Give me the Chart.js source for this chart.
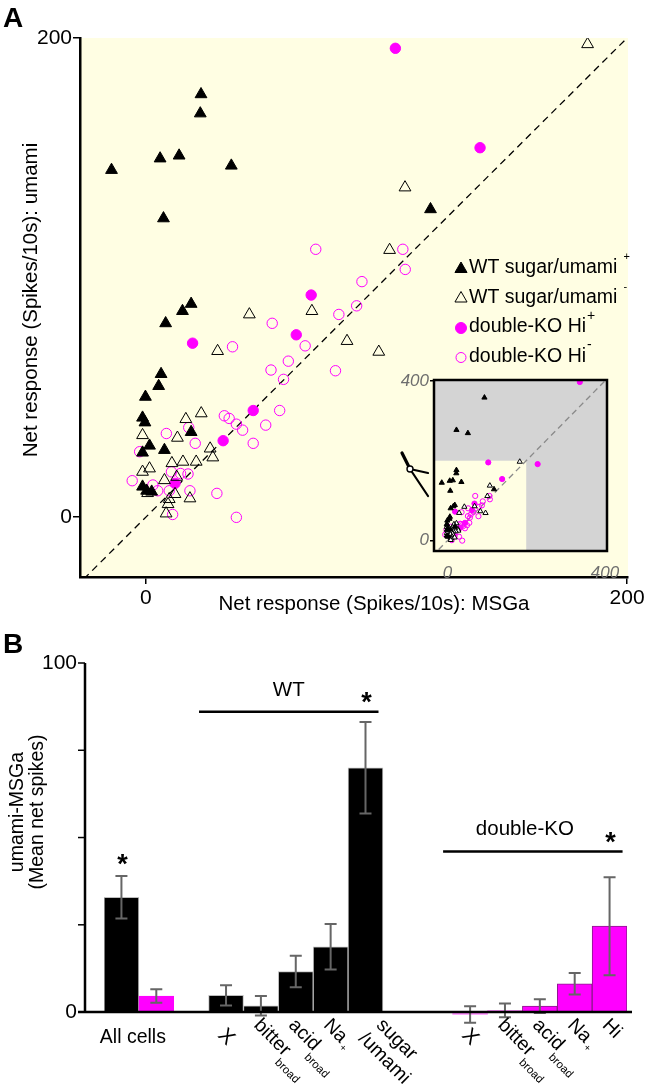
<!DOCTYPE html>
<html lang="en">
<head>
<meta charset="UTF-8">
<title>umami vs MSGa responses</title>
<script src="https://cdn.jsdelivr.net/npm/chart.js@4.4.1/dist/chart.umd.min.js"></script>
<style>
  html, body { margin: 0; padding: 0; background: #fff; }
  body { width: 646px; height: 1086px; position: relative; overflow: hidden; }
  canvas { position: absolute; }
  #chartA { left: 0; top: 0; }
  #inset { left: 395px; top: 365px; }
  #chartB { left: 0; top: 620px; }
</style>
</head>
<body>
<canvas id="chartA" width="646" height="620"></canvas>
<canvas id="inset" width="251" height="215"></canvas>
<canvas id="chartB" width="646" height="466"></canvas>
<script>
// ---- Panel A: net responses [MSGa, umami] (spikes/10s)
const wtPlus = [[-14.3,144.9],[5.9,149.7],[13.8,150.9],[22.9,176.5],[22.6,168.5],[35.5,146.7],[7.3,124.7],
  [118.3,128.5],[18.8,89],[15.2,86],[8.2,80.9],[6.3,59.7],[5.3,54.7],[-0.2,50.2],[-1.4,41.5],[-0.4,39.5],
  [18.8,35.5],[1.5,29.8],[7.7,28],[-1.4,26.9],[-1.4,12.7],[0.3,11],[2.4,10.6],[94,358],[23,277],[52,269]];
const wtMinus = [[183.6,197.4],[107.7,137.6],[101.3,111.5],[43,84.6],[69,86],[83.6,73.5],[96.8,69],[29.8,69.3],
  [23,43.3],[16.6,40.9],[-1.4,34.2],[13.1,33.1],[26.7,28.6],[27.8,24.9],[20.9,23.1],[15.4,23.1],[10.8,22.5],
  [1.5,20.3],[-1.4,18.9],[12.8,16.8],[7.7,15.4],[0.7,10],[12.1,9.6],[9.7,7.5],[18.3,7.8],[9.2,5.4],[8.4,1.5]];
const koPlus = [[103.7,195.7],[138.9,154.2],[68.7,92.7],[19.4,72.6],[62.5,76.1],[44.6,44.5],[32.1,31.9],
  [12.1,14.1],[336,397],[229,191.5]];
const koMinus = [[70.6,111.8],[106.8,111.8],[107.8,103.4],[89.8,98.3],[80.2,84.6],[87.6,88.2],[52.5,80.9],
  [66.2,71.5],[36,71.1],[59.2,65.1],[52,61.4],[78.8,61.1],[57.2,57.5],[55.6,44.5],[32.6,42.3],[34.6,41.2],
  [37.6,38.8],[40.2,36.3],[49.8,38.4],[17.8,37.4],[8.5,34.9],[44.6,30.8],[20.5,30.8],[-2.6,27.3],[10.6,18.9],
  [14.4,18.2],[17.5,18],[-5.7,15.2],[2.9,13.4],[4.9,11],[9.7,11],[18.3,11],[29.5,9.9],[11.1,1.1],[37.6,-0.1]];
const seriesNames = ['WT sugar/umami', 'WT sugar/umami', 'double-KO Hi', 'double-KO Hi'];
const seriesSigns = ['+', '-', '+', '-'];
const ticksMain = [0, 200];
const ticksInset = [0, 400];
const identity = [-40, 420];
const zoomBox = 200;   // main panel range shown inside the inset

// ---- Panel B: umami-MSGa, mean net spikes +/- sem
const allCellsGroups = ['WT', 'double-KO'];
const allCellsMean = [32.9, 4.6];
const allCellsSem = [6.1, 1.95];
const wtTypes = ['X', 'bitter_broad', 'acid_broad', 'Na_+', 'sugar/umami'];
const wtMean = [4.8, 1.8, 11.6, 18.7, 70.0];
const wtSem = [2.9, 2.8, 4.5, 6.5, 13.1];
const koTypes = ['X', 'bitter_broad', 'acid_broad', 'Na_+', 'Hi'];
const koMean = [-0.7, 0.5, 1.7, 8.1, 24.6];
const koSem = [2.35, 1.95, 2.0, 3.1, 14.05];
const ticksB = [0, 25, 50, 75, 100];
const tickLabelsB = ['0', '', '', '', '100'];
const sigLevels = [86, 46];   // WT bracket, double-KO bracket

const BLACK = '#000', MAGENTA = '#ff00ff', PLOT_BG = '#fffee3', GREY_BG = '#d4d4d4';
const FONT = "'Liberation Sans', Arial, Helvetica, sans-serif";
const clear = 'rgba(0,0,0,0)';

const pts = arr => arr.map(p => ({ x: p[0], y: p[1] }));
const fixAxis = (dim, size) => s => {
  s[dim] = size;
  s.paddingLeft = s.paddingRight = s.paddingTop = s.paddingBottom = 0;
};
const setTicks = vals => s => { s.ticks = vals.map(v => ({ value: v })); };

function seriesSets(big) {
  const tri = big ? 6.8 : 3, dot = big ? 5.2 : 2.6;
  return [
    { data: pts(wtPlus), pointStyle: 'triangle', pointRadius: tri, backgroundColor: BLACK, borderColor: BLACK, borderWidth: 1 },
    { data: pts(wtMinus), pointStyle: 'triangle', pointRadius: tri, backgroundColor: big ? clear : '#fff', borderColor: BLACK, borderWidth: 1 },
    { data: pts(koPlus), pointStyle: 'circle', pointRadius: dot, backgroundColor: MAGENTA, borderColor: MAGENTA, borderWidth: 1 },
    { data: pts(koMinus), pointStyle: 'circle', pointRadius: dot, backgroundColor: clear, borderColor: MAGENTA, borderWidth: 1 },
    { type: 'line', data: identity.map(v => ({ x: v, y: v })), borderColor: big ? BLACK : '#8a8a8a',
      borderWidth: 1.3, borderDash: big ? [7, 5] : [6, 4], pointRadius: 0, order: 10 }
  ];
}

const markerStyles = [
  { pointStyle: 'triangle', radius: 7, fill: BLACK, stroke: BLACK },
  { pointStyle: 'triangle', radius: 7, fill: clear, stroke: BLACK },
  { pointStyle: 'circle', radius: 5.5, fill: MAGENTA, stroke: MAGENTA },
  { pointStyle: 'circle', radius: 5, fill: clear, stroke: MAGENTA }
];

const panelA = {
  id: 'panelA',
  beforeDraw(chart) {
    const { ctx, chartArea: a } = chart;
    ctx.save();
    ctx.fillStyle = PLOT_BG;
    ctx.fillRect(a.left, a.top, a.right - a.left, a.bottom - a.top);
    ctx.restore();
  },
  afterDraw(chart) {
    const { ctx } = chart;
    ctx.save();
    ctx.fillStyle = BLACK;
    ctx.font = `bold 28px ${FONT}`;
    ctx.textBaseline = 'middle';
    ctx.fillText('A', 3, 19);

    ctx.font = `20.5px ${FONT}`;
    ctx.textAlign = 'center';
    ctx.fillText('Net response (Spikes/10s): MSGa', 374, 604);
    ctx.save();
    ctx.translate(31, 300);
    ctx.rotate(-Math.PI / 2);
    ctx.fillText('Net response (Spikes/10s): umami', 0, 0);
    ctx.restore();

    // legend
    ctx.textAlign = 'left';
    seriesNames.forEach((name, i) => {
      const y = 268 + i * 29.5;
      const m = markerStyles[i];
      ctx.fillStyle = m.fill; ctx.strokeStyle = m.stroke; ctx.lineWidth = 1;
      Chart.helpers.drawPoint(ctx, { pointStyle: m.pointStyle, radius: m.radius, borderWidth: 1, rotation: 0 }, 461, y + 1);
      ctx.fillStyle = BLACK;
      ctx.font = `19.5px ${FONT}`;
      ctx.fillText(name, 469, y);
      const w = ctx.measureText(name).width;
      const big = i >= 2;
      ctx.font = `${big ? 14 : 11}px ${FONT}`;
      ctx.fillText(seriesSigns[i], 469 + w + (big ? 1 : 6), y - 11);
    });
    ctx.restore();
  }
};

new Chart(document.getElementById('chartA'), {
  type: 'scatter',
  data: { datasets: seriesSets(true) },
  options: {
    responsive: false, animation: false, events: [],
    layout: { padding: { left: 0, top: 38, right: 18, bottom: 0 }, autoPadding: false },
    plugins: { legend: { display: false }, tooltip: { enabled: false } },
    scales: {
      x: {
        type: 'linear', min: -27.4, max: 200.4,
        afterBuildTicks: setTicks(ticksMain), afterFit: fixAxis('height', 43),
        border: { color: BLACK, width: 2.5 },
        grid: { drawOnChartArea: false, color: BLACK, lineWidth: 1.5, tickLength: 7 },
        ticks: { color: BLACK, font: { family: FONT, size: 21 }, padding: 2, maxRotation: 0 }
      },
      y: {
        type: 'linear', min: -25, max: 200,
        afterBuildTicks: setTicks(ticksMain), afterFit: fixAxis('width', 80),
        border: { color: BLACK, width: 2.5 },
        grid: { drawOnChartArea: false, color: BLACK, lineWidth: 1.5, tickLength: 7 },
        ticks: { color: BLACK, font: { family: FONT, size: 21 }, padding: 1 }
      }
    }
  },
  plugins: [panelA]
});

const insetDeco = {
  id: 'insetDeco',
  beforeDraw(chart) {
    const { ctx, chartArea: a, scales: { x, y } } = chart;
    ctx.save();
    ctx.fillStyle = GREY_BG;
    ctx.fillRect(a.left, a.top, a.right - a.left, a.bottom - a.top);
    ctx.fillStyle = PLOT_BG;
    const xr = x.getPixelForValue(zoomBox), yt = y.getPixelForValue(zoomBox);
    ctx.fillRect(a.left, yt, xr - a.left, a.bottom - yt);
    ctx.restore();
  },
  afterDraw(chart) {
    const { ctx, chartArea: a } = chart;
    ctx.save();
    ctx.strokeStyle = BLACK;
    ctx.lineWidth = 2.5;
    ctx.strokeRect(a.left, a.top, a.right - a.left, a.bottom - a.top);
    // magnifier pointer to the left of the inset
    const cx = a.left - 24, cy = a.top + 89;
    ctx.lineCap = 'round';
    ctx.lineWidth = 3.2;
    ctx.beginPath(); ctx.moveTo(cx, cy); ctx.lineTo(cx - 8, cy - 16); ctx.stroke();
    ctx.lineWidth = 2.2;
    ctx.beginPath();
    ctx.moveTo(cx, cy); ctx.lineTo(cx + 18, cy + 4);
    ctx.moveTo(cx, cy); ctx.lineTo(cx + 18, cy + 27);
    ctx.stroke();
    ctx.fillStyle = '#fff';
    ctx.lineWidth = 1.4;
    ctx.beginPath(); ctx.arc(cx, cy, 3, 0, Math.PI * 2); ctx.fill(); ctx.stroke();
    ctx.restore();
  }
};

const insetTickFont = { family: FONT, size: 17, style: 'italic' };
new Chart(document.getElementById('inset'), {
  type: 'scatter',
  data: { datasets: seriesSets(false) },
  options: {
    responsive: false, animation: false, events: [],
    layout: { padding: { left: 0, top: 15, right: 39, bottom: 0 }, autoPadding: false },
    plugins: { legend: { display: false }, tooltip: { enabled: false } },
    scales: {
      x: {
        type: 'linear', min: -34, max: 405,
        afterBuildTicks: setTicks(ticksInset), afterFit: fixAxis('height', 29),
        border: { display: false },
        grid: { display: false },
        ticks: { color: '#6e6e6e', font: insetTickFont, padding: 4, maxRotation: 0 }
      },
      y: {
        type: 'linear', min: -26, max: 402,
        afterBuildTicks: setTicks(ticksInset), afterFit: fixAxis('width', 39),
        border: { display: false },
        grid: { drawOnChartArea: false, color: BLACK, lineWidth: 1.5, tickLength: 4 },
        ticks: { color: '#6e6e6e', font: insetTickFont, padding: 1 }
      }
    }
  },
  plugins: [insetDeco]
});

// ---- Panel B bar layout: two "All cells" bars, gap, WT types, gap, double-KO types
const slots = [];
allCellsGroups.forEach((g, i) => slots.push({ group: g, name: 'All cells', mean: allCellsMean[i], sem: allCellsSem[i] }));
slots.push(null);
wtTypes.forEach((t, i) => slots.push({ group: 'WT', name: t, mean: wtMean[i], sem: wtSem[i] }));
slots.push(null, null);
koTypes.forEach((t, i) => slots.push({ group: 'double-KO', name: t, mean: koMean[i], sem: koSem[i] }));

const groupColor = g => (g === 'WT' ? BLACK : MAGENTA);

function drawCellLabel(ctx, text, x, y) {
  ctx.save();
  ctx.translate(x, y);
  ctx.rotate(Math.PI / 4);
  ctx.textBaseline = 'alphabetic';
  ctx.textAlign = 'left';
  if (text.includes('/')) {
    const [a, b] = text.split('/');
    ctx.font = `19.5px ${FONT}`;
    ctx.fillText(a, 0, 0);
    ctx.fillText('/' + b, -3, 22);
  } else if (text.includes('_')) {
    const [main, sub] = text.split('_');
    ctx.font = `19.5px ${FONT}`;
    ctx.fillText(main, 0, 0);
    const w = ctx.measureText(main).width;
    if (sub === '+') { ctx.font = `10px ${FONT}`; ctx.fillText(sub, w + 2, 4); }
    else { ctx.font = `11.5px ${FONT}`; ctx.fillText(sub, w - 2, 11); }
  } else {
    ctx.font = `19.5px ${FONT}`;
    ctx.fillText(text, 0, 0);
  }
  ctx.restore();
}

const panelB = {
  id: 'panelB',
  afterDatasetsDraw(chart) {
    const { ctx, chartArea: a, scales: { x, y } } = chart;
    ctx.save();
    // error bars
    ctx.strokeStyle = '#666';
    ctx.lineWidth = 2;
    slots.forEach((s, i) => {
      if (!s) return;
      const cx = x.getPixelForValue(i);
      const hi = y.getPixelForValue(s.mean + s.sem), lo = y.getPixelForValue(s.mean - s.sem);
      ctx.beginPath();
      ctx.moveTo(cx, hi); ctx.lineTo(cx, lo);
      ctx.moveTo(cx - 6, hi); ctx.lineTo(cx + 6, hi);
      ctx.moveTo(cx - 6, lo); ctx.lineTo(cx + 6, lo);
      ctx.stroke();
    });

    // y axis
    const ax = a.left - 19;
    const y0 = y.getPixelForValue(0);
    ctx.strokeStyle = BLACK;
    ctx.lineWidth = 2.5;
    ctx.beginPath();
    ctx.moveTo(ax, y.getPixelForValue(ticksB[ticksB.length - 1]));
    ctx.lineTo(ax, y0);
    ctx.moveTo(a.left - 26, y0);
    ctx.lineTo(a.right + 5, y0);
    ctx.stroke();
    ctx.lineWidth = 1.5;
    ctx.fillStyle = BLACK;
    ctx.font = `21px ${FONT}`;
    ctx.textAlign = 'right';
    ctx.textBaseline = 'middle';
    ticksB.forEach((v, i) => {
      const py = y.getPixelForValue(v);
      ctx.beginPath(); ctx.moveTo(ax - 7, py); ctx.lineTo(ax, py); ctx.stroke();
      if (tickLabelsB[i]) ctx.fillText(tickLabelsB[i], ax - 8, py);
    });

    // x labels
    ctx.textAlign = 'center';
    ctx.textBaseline = 'middle';
    ctx.font = `19.5px ${FONT}`;
    const allIdx = slots.map((s, i) => (s && s.name === 'All cells' ? i : -1)).filter(i => i >= 0);
    const allX = allIdx.reduce((t, i) => t + x.getPixelForValue(i), 0) / allIdx.length;
    ctx.fillText('All cells', allX - 6, y0 + 26);
    slots.forEach((s, i) => {
      if (!s || s.name === 'All cells') return;
      const cx = x.getPixelForValue(i);
      if (s.name === 'X') {
        ctx.save();
        ctx.translate(cx, y0 + 25);
        ctx.rotate(Math.PI / 4);
        ctx.font = `21px ${FONT}`;
        ctx.fillText('X', 0, 0);
        ctx.restore();
      } else if (s.name.includes('/')) {
        drawCellLabel(ctx, s.name, cx + 10, y0 + 14);
      } else {
        drawCellLabel(ctx, s.name, cx - 8, y0 + 14);
      }
    });

    // significance brackets
    ['WT', 'double-KO'].forEach((g, k) => {
      const idx = slots.map((s, i) => (s && s.group === g && s.name !== 'All cells' ? i : -1)).filter(i => i >= 0);
      const x1 = x.getPixelForValue(idx[0]) - 27, x2 = x.getPixelForValue(idx[idx.length - 1]) + 13;
      const ly = y.getPixelForValue(sigLevels[k]);
      ctx.lineWidth = 2.5;
      ctx.beginPath(); ctx.moveTo(x1, ly); ctx.lineTo(x2, ly); ctx.stroke();
      ctx.font = `20.5px ${FONT}`;
      ctx.fillText(g, (x1 + x2) / 2 - (k ? 8 : 0), ly - 22);
      ctx.font = `bold 27px ${FONT}`;
      ctx.fillText('*', x.getPixelForValue(idx[idx.length - 1]) + 1, ly - 8);
    });
    ctx.font = `bold 27px ${FONT}`;
    const a0 = slots[allIdx[0]];
    ctx.fillText('*', x.getPixelForValue(allIdx[0]) + 1, y.getPixelForValue(a0.mean + a0.sem) - 10);

    // titles
    ctx.textAlign = 'left';
    ctx.font = `bold 28px ${FONT}`;
    ctx.fillText('B', 3, 25);
    ctx.textAlign = 'center';
    ctx.font = `19.5px ${FONT}`;
    ctx.save();
    ctx.translate(18, 192);
    ctx.rotate(-Math.PI / 2);
    ctx.fillText('umami-MSGa', 0, 0);
    ctx.fillText('(Mean net spikes)', 0, 20);
    ctx.restore();
    ctx.restore();
  }
};

new Chart(document.getElementById('chartB'), {
  type: 'bar',
  data: {
    labels: slots.map(s => (s ? s.group + ' ' + s.name : '')),
    datasets: [{
      data: slots.map(s => (s ? s.mean : null)),
      backgroundColor: slots.map(s => (s ? (Math.abs(s.mean) < 1 ? 'rgba(255,0,255,0.45)' : groupColor(s.group)) : clear)),
      borderColor: slots.map(s => (s ? (s.group === 'WT' ? '#bdbdbd' : s.name === 'All cells' ? MAGENTA : '#8a1a8a') : clear)),
      borderWidth: slots.map(s => (s && Math.abs(s.mean) >= 1 ? 1 : 0)),
      barPercentage: 1, categoryPercentage: 1
    }]
  },
  options: {
    responsive: false, animation: false, events: [],
    layout: { padding: { left: 104, right: 19, top: 43, bottom: 46 }, autoPadding: false },
    plugins: { legend: { display: false }, tooltip: { enabled: false } },
    scales: {
      x: { type: 'category', offset: true, display: false },
      y: { type: 'linear', min: -8, max: 100, display: false }
    }
  },
  plugins: [panelB]
});
</script>
</body>
</html>
